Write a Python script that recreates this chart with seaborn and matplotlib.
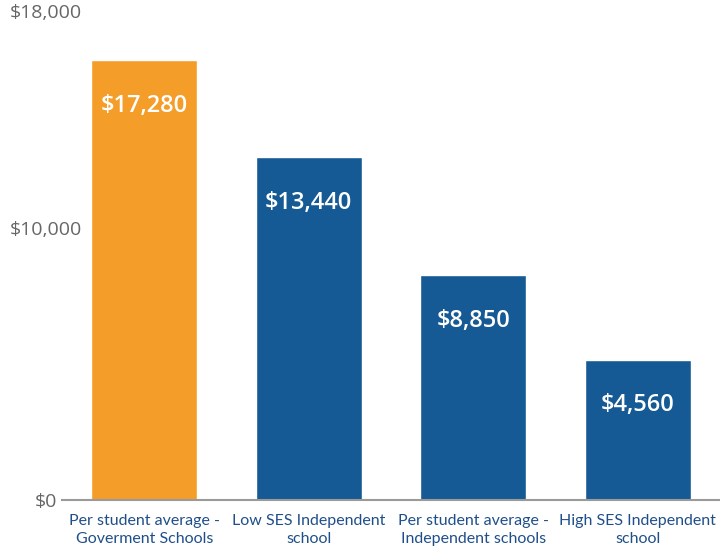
import matplotlib.pyplot as plt
import seaborn as sns
import pandas as pd

categories = [
    "Per student average -\nGoverment Schools",
    "Low SES Independent\nschool",
    "Per student average -\nIndependent schools",
    "High SES Independent\nschool",
]
bar_heights = [16200, 12620, 8270, 5170]
value_labels = ["$17,280", "$13,440", "$8,850", "$4,560"]
bar_colors = ["#F59D29", "#155A94", "#155A94", "#155A94"]
y_ticks = [0, 10000, 18000]
y_tick_labels = ["$0", "$10,000", "$18,000"]

df = pd.DataFrame({"category": categories, "value": bar_heights})

sns.set_style("white")
plt.rcParams["font.family"] = ["Open Sans", "DejaVu Sans"]

fig = plt.figure(figsize=(7.2, 5.48), dpi=100)
ax = fig.add_axes([62 / 720, 48 / 548, 658 / 720, 489 / 548])

sns.barplot(data=df, x="category", y="value", hue="category",
            palette=bar_colors, width=0.644, legend=False, ax=ax,
            saturation=1)

for i, (h, lab) in enumerate(zip(bar_heights, value_labels)):
    ax.annotate(lab, (i, h), xytext=(0, -33), textcoords="offset points",
                ha="center", va="center", color="white", fontsize=17,
                fontweight="semibold")

ax.set_xlim(-0.5, 3.5)
ax.set_ylim(0, 18000)
ax.set_yticks(y_ticks)
ax.set_yticklabels(y_tick_labels, color="#666666", fontsize=14)
ax.set_xticks(range(len(categories)))
ax.set_xticklabels(categories, color="#1F4F8A", fontsize=11.5,
                   family=["Lato", "DejaVu Sans"], linespacing=1.35)
ax.tick_params("both", length=0)
ax.tick_params("y", pad=11.5)
ax.tick_params("x", pad=10)
ax.spines[["top", "left", "right"]].set_visible(False)
ax.spines["bottom"].set_color("#9a9a9a")
ax.spines["bottom"].set_linewidth(1.5)
ax.set_xlabel("")
ax.set_ylabel("")

for t in ax.get_yticklabels():
    t.set_horizontalalignment("center")

plt.savefig("out.png", dpi=100)
